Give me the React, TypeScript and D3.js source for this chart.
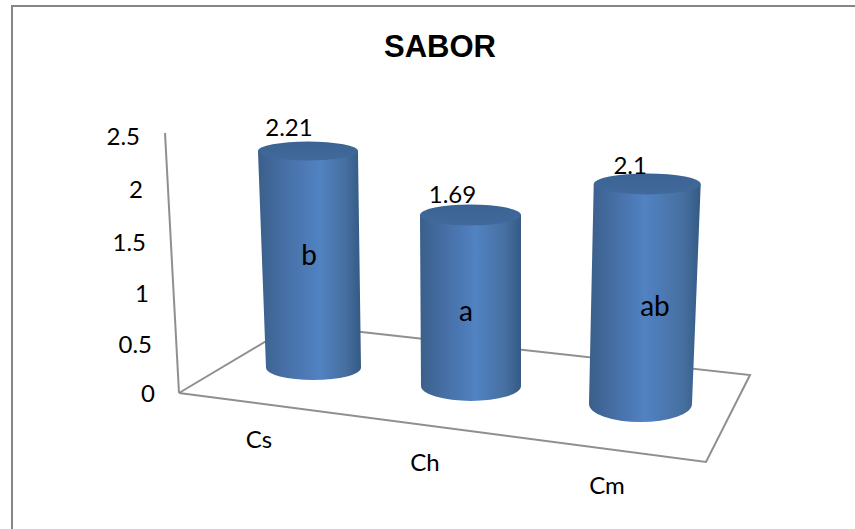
import React from "react";
import * as d3 from "d3";

const chartTitle = "SABOR";
const categories = ["Cs", "Ch", "Cm"];
const values = [2.21, 1.69, 2.1];
const groupLetters = ["b", "a", "ab"];
const valueTicks = [0, 0.5, 1, 1.5, 2, 2.5];

const WIDTH = 855;
const HEIGHT = 529;
const LABEL_FONT = "Lato, 'Open Sans', sans-serif";

// Perspective layout: every scale runs along the category depth or the value axis.
const slots = categories.map((_, i) => i);
const baseX = d3.scaleLinear().domain([0, 1, 2]).range([313.5, 471, 640.5]);
const baseY = d3.scaleLinear().domain([0, 2]).range([368, 404]);
const unitHeight = d3.scaleLinear().domain([0, 1, 2]).range([98.2, 101.2, 104.8]);
const leanPerUnit = d3.scaleLinear().domain([0, 1, 2]).range([-2.5, -0.3, 3.2]);
const baseRx = d3.scaleLinear().domain([0, 1, 2]).range([47.5, 50, 51.5]);
const baseRy = d3.scaleLinear().domain([0, 2]).range([12, 18]);
const topRx = d3.scaleLinear().domain([0, 1, 2]).range([50, 50.5, 53.5]);
const topRy = d3.scaleLinear().domain([0, 1, 2]).range([9.5, 10.5, 10.5]);
const highlightAt = d3.scaleLinear().domain([0, 2]).range([60, 50]);

const tickY = d3.scaleLinear().domain(valueTicks).range([394, 345, 294, 243, 190, 137]);
const tickRight = d3.scaleLinear().domain([0, 2.5]).range([155, 140]);
const axisX = d3.scaleLinear().domain([0, 2.5]).range([179, 165]);
const axisY = d3.scaleLinear().domain([0, 2.5]).range([393, 133]);

const categoryLabelX = d3.scaleLinear().domain([0, 1, 2]).range([259, 425, 607]);
const categoryLabelY = d3.scaleLinear().domain([0, 2]).range([440, 486]);
const letterX = d3.scaleLinear().domain([0, 1, 2]).range([309, 466, 655]);
const letterY = d3.scaleLinear().domain([0, 1, 2]).range([255, 311, 306]);
const valueLabelDx = d3.scaleLinear().domain([0, 2]).range([-19, -17]);
const valueLabelDy = d3.scaleLinear().domain([0, 2]).range([-23, -18]);

function cylinderGeometry(i: number) {
  const v = values[i];
  const bx = baseX(i);
  const by = baseY(i);
  const tx = bx + v * leanPerUnit(i);
  const ty = by - v * unitHeight(i);
  const brx = baseRx(i);
  const bry = baseRy(i);
  const trx = topRx(i);
  const sideOutline = d3.path();
  sideOutline.moveTo(tx - trx, ty);
  sideOutline.lineTo(bx - brx, by);
  const body = `${sideOutline.toString()} A${brx},${bry} 0 0 0 ${bx + brx},${by} L${tx + trx},${ty} Z`;
  return { tx, ty, trx, try_: topRy(i), body };
}

export default function App() {
  const floorFront = d3.line()([
    [axisX(0), axisY(0)],
    [706, 462],
    [750, 375],
    [294, 324.6],
    [axisX(0), axisY(0)],
  ]) as string;
  const wall = d3.line()([
    [axisX(0), axisY(0)],
    [axisX(2.5), axisY(2.5)],
  ]) as string;

  return (
    <svg
      width={WIDTH}
      height={HEIGHT}
      viewBox={`0 0 ${WIDTH} ${HEIGHT}`}
      style={{ position: "absolute", left: 0, top: 0, background: "#fff" }}
    >
      <defs>
        {slots.map((i) => (
          <linearGradient key={i} id={`side-${i}`} x1="0" x2="1" y1="0" y2="0">
            <stop offset="0%" stopColor="#3a5f8a" />
            <stop offset="15%" stopColor="#42699c" />
            <stop offset={`${highlightAt(i)}%`} stopColor="#5182c2" />
            <stop offset="85%" stopColor="#466f9f" />
            <stop offset="100%" stopColor="#345a84" />
          </linearGradient>
        ))}
        <linearGradient id="cap" x1="0" x2="0" y1="0" y2="1">
          <stop offset="0%" stopColor="#3b6392" />
          <stop offset="100%" stopColor="#41699c" />
        </linearGradient>
      </defs>

      {/* Chart frame: only the top and left edges fall inside the canvas */}
      <path d={`M12,${HEIGHT} V6 H${WIDTH}`} fill="none" stroke="#868686" strokeWidth={2} />

      <text
        x={440}
        y={57}
        textAnchor="middle"
        fontFamily="'Liberation Sans', Arial, sans-serif"
        fontWeight={700}
        fontSize={31}
        fill="#000"
      >
        {chartTitle}
      </text>

      <path d={wall} fill="none" stroke="#8f8f8f" strokeWidth={2} />
      <path d={floorFront} fill="none" stroke="#8f8f8f" strokeWidth={2} />

      {valueTicks.map((t) => (
        <text
          key={t}
          x={tickRight(t)}
          y={tickY(t)}
          dy="0.35em"
          textAnchor="end"
          fontFamily={LABEL_FONT}
          fontSize={24}
          fill="#000"
        >
          {t}
        </text>
      ))}

      {slots.map((i) => {
        const g = cylinderGeometry(i);
        return (
          <g key={categories[i]}>
            <path d={g.body} fill={`url(#side-${i})`} />
            <ellipse cx={g.tx} cy={g.ty} rx={g.trx} ry={g.try_} fill="url(#cap)" />
            <text
              x={g.tx + valueLabelDx(i)}
              y={g.ty + valueLabelDy(i)}
              dy="0.35em"
              textAnchor="middle"
              fontFamily={LABEL_FONT}
              fontSize={24}
              fill="#000"
            >
              {values[i]}
            </text>
            <text
              x={letterX(i)}
              y={letterY(i)}
              dy="0.35em"
              textAnchor="middle"
              fontFamily={LABEL_FONT}
              fontSize={28}
              fill="#000"
            >
              {groupLetters[i]}
            </text>
            <text
              x={categoryLabelX(i)}
              y={categoryLabelY(i)}
              dy="0.35em"
              textAnchor="middle"
              fontFamily={LABEL_FONT}
              fontSize={24}
              fill="#000"
            >
              {categories[i]}
            </text>
          </g>
        );
      })}
    </svg>
  );
}
